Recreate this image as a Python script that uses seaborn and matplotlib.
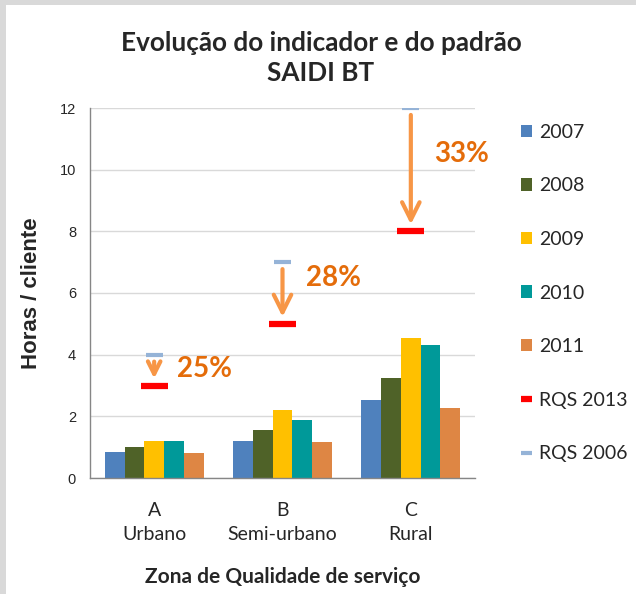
import numpy as np
import pandas as pd
import matplotlib
matplotlib.use("Agg")
import matplotlib.pyplot as plt
import seaborn as sns
from matplotlib.patches import Rectangle

# Data
zones = ["A\nUrbano", "B\nSemi-urbano", "C\nRural"]
years = ["2007", "2008", "2009", "2010", "2011"]
saidi_2007 = [0.84, 1.20, 2.52]
saidi_2008 = [0.99, 1.56, 3.25]
saidi_2009 = [1.19, 2.21, 4.55]
saidi_2010 = [1.21, 1.88, 4.31]
saidi_2011 = [0.81, 1.16, 2.27]
rqs_2013 = [3, 5, 8]
rqs_2006 = [4, 7, 12]
pct_labels = ["25%", "28%", "33%"]
pct_label_y = [3.55, 6.5, 10.5]

year_colors = ["#4F81BD", "#4F6228", "#FFC000", "#009999", "#DE8644"]

values = [saidi_2007, saidi_2008, saidi_2009, saidi_2010, saidi_2011]
rows = []
for yr, vals in zip(years, values):
    for z, v in zip(zones, vals):
        rows.append({"zona": z, "ano": yr, "horas": v})
df = pd.DataFrame(rows)

sns.set_style("white")
plt.rcParams["font.family"] = ["Lato", "DejaVu Sans"]

fig = plt.figure(figsize=(6.36, 5.94), dpi=100)
fig.patch.set_facecolor("white")
# grey frame on the left and top edges
fig.patches.append(Rectangle((0, 0), 6 / 636, 1, transform=fig.transFigure,
                             facecolor="#D9D9D9", edgecolor="none", zorder=-10))
fig.patches.append(Rectangle((0, 1 - 5 / 594), 1, 5 / 594, transform=fig.transFigure,
                             facecolor="#D9D9D9", edgecolor="none", zorder=-10))

ax = fig.add_axes([90 / 636, 1 - 478 / 594, 385 / 636, 370 / 594])
ax.set_facecolor("none")

sns.barplot(data=df, x="zona", y="horas", hue="ano", palette=year_colors,
            width=0.77, saturation=1, errorbar=None, linewidth=0, ax=ax)

xpos = np.arange(len(zones))
ax.hlines(rqs_2013, xpos - 0.105, xpos + 0.105, color="#FF0000", lw=4.5,
          label="RQS 2013", zorder=4)
ax.hlines(rqs_2006, xpos - 0.065, xpos + 0.065, color="#95B3D7", lw=3,
          label="RQS 2006", zorder=4)

for i in range(len(zones)):
    drop = rqs_2006[i] - rqs_2013[i]
    ax.annotate("", xy=(xpos[i], rqs_2013[i]), xytext=(xpos[i], rqs_2006[i]),
                arrowprops=dict(arrowstyle="->,head_length=0.9,head_width=0.45",
                                color="#F79646", lw=3, shrinkA=5, shrinkB=5,
                                mutation_scale=min(14, 6 + 4 * drop)),
                zorder=5)
    ax.text(xpos[i] + 0.18, pct_label_y[i], pct_labels[i], ha="left", va="center",
            color="#E46C0A", fontsize=20, fontweight="bold")

ax.set_ylim(0, 12)
ax.set_xlim(-0.5, 2.5)
ax.set_yticks(range(0, 13, 2))
ax.yaxis.grid(True, color="#D9D9D9", lw=1)
ax.set_axisbelow(True)
for s in ["top", "right"]:
    ax.spines[s].set_visible(False)
for s in ["left", "bottom"]:
    ax.spines[s].set_color("#868686")
    ax.spines[s].set_linewidth(1)
ax.tick_params(axis="both", length=0)
ax.tick_params(axis="y", pad=10)
ax.tick_params(axis="x", pad=17)
for lab in ax.get_yticklabels():
    lab.set_fontfamily("Liberation Sans")
    lab.set_fontsize(10.5)
for lab in ax.get_xticklabels():
    lab.set_fontsize(14)
    lab.set_linespacing(1.55)

ax.set_xlabel("Zona de Qualidade de serviço", fontsize=15, fontweight="bold", labelpad=17)
ax.set_ylabel("Horas / cliente", fontsize=16, fontweight="bold",
              fontfamily="Liberation Sans")
ax.yaxis.set_label_coords(-0.125, 0.5)

handles, labels = ax.get_legend_handles_labels()
order = years + ["RQS 2013", "RQS 2006"]
hmap = dict(zip(labels, handles))
ax.legend([hmap[k] for k in order], order, loc="center left",
          bbox_to_anchor=(511 / 636, 1 - 293 / 594), bbox_transform=fig.transFigure,
          frameon=False, fontsize=14, handlelength=0.6, handleheight=0.6,
          handletextpad=0.35, labelspacing=1.88, borderpad=0)

fig.text(321 / 636, 1 - 58 / 594, "Evolução do indicador e do padrão\nSAIDI BT",
         ha="center", va="center", fontsize=18.8, fontweight="bold", linespacing=1.3)

fig.savefig("out.png", dpi=100, facecolor=fig.get_facecolor())
